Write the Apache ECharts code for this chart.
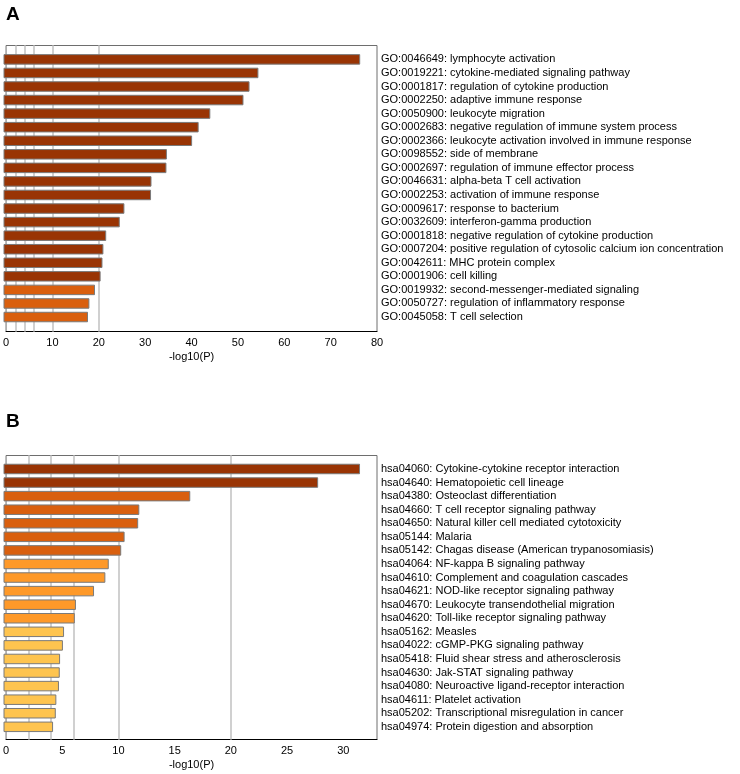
<!DOCTYPE html>
<html>
<head>
<meta charset="utf-8">
<script src="https://cdn.jsdelivr.net/npm/echarts@6/dist/echarts.min.js"></script>
<style>
  html, body { margin: 0; padding: 0; background: #fff; }
  #chart { width: 740px; height: 774px; }
</style>
</head>
<body>
<div id="chart"></div>
<script>
// GO terms (panel A)
var termsA = [
  'GO:0046649: lymphocyte activation',
  'GO:0019221: cytokine-mediated signaling pathway',
  'GO:0001817: regulation of cytokine production',
  'GO:0002250: adaptive immune response',
  'GO:0050900: leukocyte migration',
  'GO:0002683: negative regulation of immune system process',
  'GO:0002366: leukocyte activation involved in immune response',
  'GO:0098552: side of membrane',
  'GO:0002697: regulation of immune effector process',
  'GO:0046631: alpha-beta T cell activation',
  'GO:0002253: activation of immune response',
  'GO:0009617: response to bacterium',
  'GO:0032609: interferon-gamma production',
  'GO:0001818: negative regulation of cytokine production',
  'GO:0007204: positive regulation of cytosolic calcium ion concentration',
  'GO:0042611: MHC protein complex',
  'GO:0001906: cell killing',
  'GO:0019932: second-messenger-mediated signaling',
  'GO:0050727: regulation of inflammatory response',
  'GO:0045058: T cell selection'
];
var valuesA = [76.4, 54.6, 52.7, 51.4, 44.3, 41.8, 40.4, 35.0, 34.9, 31.7,
               31.6, 25.9, 24.9, 22.0, 21.4, 21.2, 20.8, 19.6, 18.4, 18.1];

// KEGG pathways (panel B)
var termsB = [
  'hsa04060: Cytokine-cytokine receptor interaction',
  'hsa04640: Hematopoietic cell lineage',
  'hsa04380: Osteoclast differentiation',
  'hsa04660: T cell receptor signaling pathway',
  'hsa04650: Natural killer cell mediated cytotoxicity',
  'hsa05144: Malaria',
  'hsa05142: Chagas disease (American trypanosomiasis)',
  'hsa04064: NF-kappa B signaling pathway',
  'hsa04610: Complement and coagulation cascades',
  'hsa04621: NOD-like receptor signaling pathway',
  'hsa04670: Leukocyte transendothelial migration',
  'hsa04620: Toll-like receptor signaling pathway',
  'hsa05162: Measles',
  'hsa04022: cGMP-PKG signaling pathway',
  'hsa05418: Fluid shear stress and atherosclerosis',
  'hsa04630: Jak-STAT signaling pathway',
  'hsa04080: Neuroactive ligand-receptor interaction',
  'hsa04611: Platelet activation',
  'hsa05202: Transcriptional misregulation in cancer',
  'hsa04974: Protein digestion and absorption'
];
var valuesB = [31.5, 27.8, 16.5, 12.0, 11.9, 10.7, 10.4, 9.3, 9.0, 8.0,
               6.4, 6.3, 5.35, 5.25, 5.0, 4.97, 4.9, 4.67, 4.62, 4.38];

// reference lines and axis ranges
var refLines = [2, 4, 6, 10, 20];
var axisMaxA = 80, axisStepA = 10;
var axisMaxB = 33, axisStepB = 5;

var font = '"Liberation Sans", Arial, sans-serif';

// colour bins by -log10(P)
function binColor(v) {
  if (v >= 20) return '#993404';
  if (v >= 10) return '#d95f0e';
  if (v >= 6) return '#fe9929';
  if (v >= 4) return '#fec44f';
  return '#fee391';
}

function bars(values) {
  return values.map(function (v) {
    return { value: v, itemStyle: { color: binColor(v) } };
  });
}

var chart = echarts.init(document.getElementById('chart'), null, { renderer: 'canvas' });

// panel layout: outer frame grid + inner bar grid
var panels = [
  { top: 45.5, height: 286, innerTop: 52.6, innerHeight: 271.2, max: axisMaxA, step: axisStepA, terms: termsA, values: valuesA },
  { top: 455.5, height: 284, innerTop: 462.2, innerHeight: 271.4, max: axisMaxB, step: axisStepB, terms: termsB, values: valuesB }
];

var grids = [], xAxes = [], yAxes = [], series = [];
panels.forEach(function (p, i) {
  var outer = i * 2, inner = i * 2 + 1;
  grids.push({ left: 3.5, top: p.top, width: 373.5, height: p.height, show: true,
               borderColor: '#6e6e6e', borderWidth: 1, backgroundColor: 'transparent' });
  grids.push({ left: 3.5, top: p.innerTop, width: 373.5, height: p.innerHeight });

  xAxes.push({
    gridIndex: outer, type: 'value', min: 0, max: p.max, interval: p.step,
    axisLine: { show: true, lineStyle: { color: '#000', width: 1 } },
    axisTick: { show: false },
    splitLine: { show: false },
    axisLabel: { color: '#000', fontSize: 11, fontFamily: font, margin: 6, showMaxLabel: p.max % p.step === 0 },
    name: '-log10(P)', nameLocation: 'middle', nameGap: 20,
    nameTextStyle: { color: '#000', fontSize: 11, fontFamily: font }
  });
  xAxes.push({ gridIndex: inner, type: 'value', min: 0, max: p.max, show: false });

  yAxes.push({ gridIndex: outer, type: 'value', min: 0, max: 1, show: false });
  yAxes.push({
    gridIndex: inner, type: 'category', data: p.terms, inverse: true, position: 'right',
    axisLine: { show: false }, axisTick: { show: false }, splitLine: { show: false },
    axisLabel: { color: '#000', fontSize: 11, fontFamily: font, margin: 4, interval: 0 }
  });

  // light grey reference lines, kept behind the bars
  series.push({
    type: 'line', xAxisIndex: outer, yAxisIndex: outer, data: [], silent: true, z: 1,
    color: '#d0d0d0',
    markLine: {
      silent: true, symbol: 'none', animation: false, z: 1,
      label: { show: false },
      emphasis: { disabled: true },
      lineStyle: { color: '#d0d0d0', width: 2, type: 'solid', opacity: 1 },
      data: refLines.map(function (v) { return { xAxis: v }; })
    }
  });

  series.push({
    type: 'bar', xAxisIndex: inner, yAxisIndex: inner, barWidth: 10.5, z: 6,
    itemStyle: { borderColor: '#7a7a7a', borderWidth: 1 },
    data: bars(p.values)
  });
});

chart.setOption({
  animation: false,
  title: [
    { text: 'A', left: 1, top: 0, textStyle: { fontSize: 19, fontWeight: 'bold', color: '#000', fontFamily: font } },
    { text: 'B', left: 1, top: 407, textStyle: { fontSize: 19, fontWeight: 'bold', color: '#000', fontFamily: font } }
  ],
  grid: grids,
  xAxis: xAxes,
  yAxis: yAxes,
  series: series
});
</script>
</body>
</html>
